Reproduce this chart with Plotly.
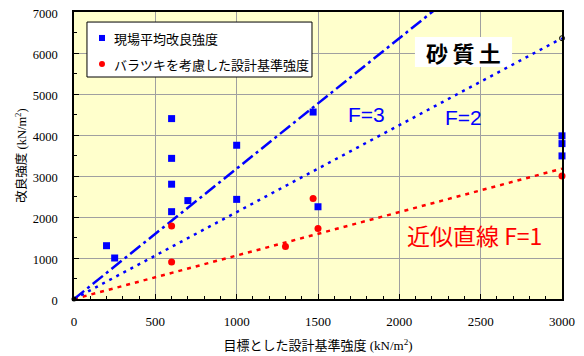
import plotly.graph_objects as go

# Data
blue_x = [200, 250, 600, 600, 600, 600, 700, 1000, 1000, 1470, 1500, 3000, 3000, 3000]
blue_y = [1300, 1000, 4400, 3430, 2800, 2130, 2400, 3750, 2430, 4560, 2250, 3980, 3790, 3490]
red_x = [600, 600, 1300, 1470, 1500, 3000]
red_y = [1780, 900, 1280, 2450, 1720, 3000]
slope = 1.06  # 近似直線 slope
line_x = [0, 3000]
f_values = [1, 2, 3]
legend_names = ["現場平均改良強度", "バラツキを考慮した設計基準強度"]

xticks = [0, 500, 1000, 1500, 2000, 2500, 3000]
yticks = [0, 1000, 2000, 3000, 4000, 5000, 6000, 7000]

JP = "Noto Sans CJK JP"
SANS = "Liberation Sans, Noto Sans CJK JP"
SERIF = "Liberation Serif, Noto Sans CJK JP"

fig = go.Figure()

dashes = {1: "4px,5px", 2: "3px,5px", 3: "13px,4px,3px,4px"}
colors = {1: "#FF0000", 2: "#0000FF", 3: "#0000FF"}
for f in f_values:
    fig.add_trace(go.Scatter(x=line_x, y=[0, slope * f * line_x[1]], mode="lines",
                             line=dict(color=colors[f], width=2.5, dash=dashes[f]),
                             showlegend=False, hoverinfo="skip"))

fig.add_trace(go.Scatter(x=blue_x, y=blue_y, mode="markers", name=legend_names[0],
                         marker=dict(symbol="square", size=7, color="#0000FF"),
                         showlegend=False, cliponaxis=False))
fig.add_trace(go.Scatter(x=red_x, y=red_y, mode="markers", name=legend_names[1],
                         marker=dict(symbol="circle", size=7, color="#FF0000"),
                         showlegend=False, cliponaxis=False))
# end marker of F=2 line
fig.add_trace(go.Scatter(x=[line_x[1]], y=[slope * 2 * line_x[1]], mode="markers",
                         marker=dict(symbol="circle-open", size=5, color="black", line=dict(width=1)),
                         showlegend=False, cliponaxis=False))
fig.add_trace(go.Scatter(x=[0], y=[0], mode="markers",
                         marker=dict(symbol="circle", size=5, color="black"),
                         showlegend=False, cliponaxis=False))

# manual legend box
fig.add_shape(type="rect", xref="paper", yref="paper", x0=0.0266, x1=0.4877, y0=0.7735, y1=0.965,
              fillcolor="white", line=dict(color="black", width=1), layer="above")
fig.add_shape(type="rect", xref="paper", yref="paper", x0=0.0512, x1=0.0635, y0=0.899, y1=0.920,
              fillcolor="#0000FF", line=dict(width=0), layer="above")
fig.add_shape(type="circle", xref="paper", yref="paper", x0=0.0512, x1=0.0635, y0=0.8083, y1=0.8293,
              fillcolor="#FF0000", line=dict(width=0), layer="above")
fig.add_annotation(xref="paper", yref="paper", x=0.0779, y=0.9094, xanchor="left", yanchor="middle",
                   text=legend_names[0], showarrow=False,
                   font=dict(family=JP, size=13, color="black"))
fig.add_annotation(xref="paper", yref="paper", x=0.0779, y=0.8188, xanchor="left", yanchor="middle",
                   text=legend_names[1], showarrow=False,
                   font=dict(family=JP, size=13, color="black"))

# 砂質土 label with white box
fig.add_shape(type="rect", x0=2096, x1=2693, y0=5659, y1=6390,
              fillcolor="white", line=dict(width=0), layer="between")
fig.add_annotation(x=2394, y=6024, text="<b>砂\u2009質\u2009土</b>", showarrow=False,
                   font=dict(family=JP, size=22, color="black"))
fig.add_annotation(x=1801, y=4512, text="F=3", showarrow=False,
                   font=dict(family=SANS, size=21, color="#0000FF"))
fig.add_annotation(x=2397, y=4415, text="F=2", showarrow=False,
                   font=dict(family=SANS, size=21, color="#0000FF"))
fig.add_annotation(x=2463, y=1561, text="近似直線 F=1", showarrow=False,
                   font=dict(family=JP, size=23, color="#FF0000"))

fig.update_layout(
    width=576, height=348,
    margin=dict(l=66, r=22, t=4, b=57, autoexpand=False),
    paper_bgcolor="white", plot_bgcolor="#FFFFCC",
    showlegend=False,
    xaxis=dict(range=[0, 3000], tickvals=xticks, ticks="inside", ticklen=5,
               tickcolor="black", showline=True, linecolor="black", linewidth=1.5,
               mirror=True, showgrid=True, gridcolor="#A0A0A0", gridwidth=1,
               zeroline=False, automargin=False, ticklabelstandoff=10,
               ticklabeloverflow="allow",
               minor=dict(dtick=100, ticks="inside", ticklen=3, tickcolor="black", showgrid=False),
               tickfont=dict(family=SERIF, size=13, color="black"),
               title=dict(text="目標とした設計基準強度 (kN/m<sup>2</sup>)",
                          font=dict(family=SERIF, size=13, color="black"), standoff=13)),
    yaxis=dict(range=[0, 7000], tickvals=yticks, ticks="inside", ticklen=5,
               tickcolor="black", showline=True, linecolor="black", linewidth=1.5,
               mirror=True, showgrid=True, gridcolor="#A0A0A0", gridwidth=1,
               zeroline=False, automargin=False, ticklabelstandoff=12,
               ticklabeloverflow="allow", ticklabelshift=2,
               minor=dict(dtick=500, ticks="inside", ticklen=3, tickcolor="black", showgrid=False),
               tickfont=dict(family=SERIF, size=12.5, color="black"),
               title=dict(text="改良強度 (kN/m<sup>2</sup>)",
                          font=dict(family=SERIF, size=12.5, color="black"), standoff=3)),
)

fig.write_html("out.html")
